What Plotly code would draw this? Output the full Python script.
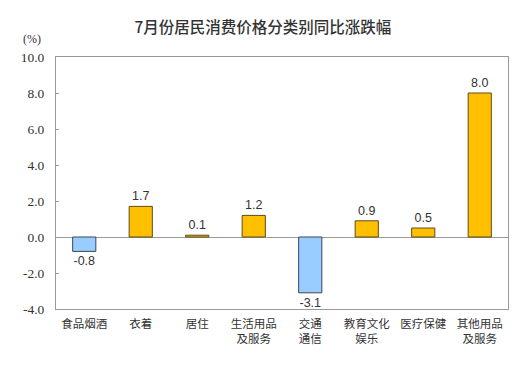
import plotly.graph_objects as go

categories = ["食品烟酒", "衣着", "居住", "生活用品<br>及服务", "交通<br>通信", "教育文化<br>娱乐", "医疗保健", "其他用品<br>及服务"]
values = [-0.8, 1.7, 0.1, 1.2, -3.1, 0.9, 0.5, 8.0]
tick_vals = [-4, -2, 0, 2, 4, 6, 8, 10]
tick_text = ["-4.0", "-2.0", "0.0", "2.0", "4.0", "6.0", "8.0", "10.0"]

colors = ["#99CCFF" if v < 0 else "#FFC000" for v in values]
edge = ["#3c4650" if v < 0 else "#5c4a1e" for v in values]
x = list(range(len(categories)))

# page has an 8px body margin, so the figure is drawn 8px smaller
W, H = 517, 361

fig = go.Figure()
fig.add_trace(go.Bar(
    x=x, y=values, width=0.41,
    marker=dict(color=colors, line=dict(color=edge, width=1)),
    text=[f"{v:.1f}" for v in values], textposition="outside",
    textfont=dict(family="Liberation Sans, Arial", size=12.5, color="#333333"),
    cliponaxis=False,
))

fig.update_layout(
    width=W, height=H,
    margin=dict(l=48, r=17, t=49, b=60, autoexpand=False),
    paper_bgcolor="white", plot_bgcolor="white",
    showlegend=False,
    title=dict(text="7月份居民消费价格分类别同比涨跌幅", x=0.493, xanchor="center", y=0.947, yanchor="middle",
               font=dict(family="Noto Sans CJK SC", size=15.5, color="#333333", weight=500)),
    xaxis=dict(range=[-0.5, 7.5], tickmode="array", tickvals=x, ticktext=categories,
               showline=True, linecolor="#999999", linewidth=1, mirror=True, ticks="",
               showgrid=False, zeroline=False, automargin=False, ticklabelstandoff=4,
               tickfont=dict(family="Noto Sans CJK SC", size=11.5, color="#333333")),
    yaxis=dict(range=[-4, 10], tickmode="array", tickvals=tick_vals, ticktext=tick_text,
               showline=True, linecolor="#999999", linewidth=1, mirror=True,
               ticks="inside", ticklen=3, tickcolor="#999999", automargin=False,
               ticklabelstandoff=8,
               showgrid=False, zeroline=True, zerolinecolor="#999999", zerolinewidth=1,
               tickfont=dict(family="Liberation Serif", size=13.5, color="#333333")),
    annotations=[dict(text="(%)", xref="paper", yref="paper", x=-0.029, y=1.07, xanchor="right", yanchor="middle",
                      showarrow=False, font=dict(family="Liberation Serif", size=12, color="#333333"))],
)
fig.write_html("out.html")
